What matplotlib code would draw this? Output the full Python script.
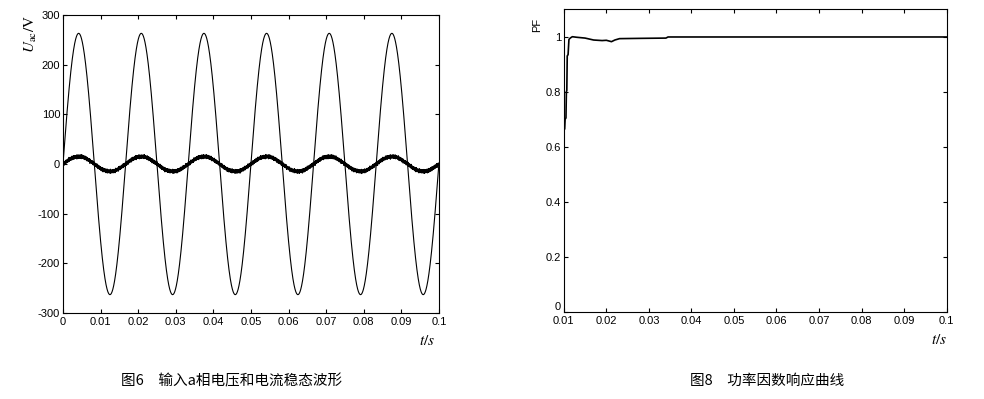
import numpy as np
import matplotlib
matplotlib.use("Agg")
from matplotlib import pyplot as plt

plt.rcParams['font.family'] = ['Liberation Sans', 'DejaVu Sans']
plt.rcParams['axes.unicode_minus'] = False
plt.rcParams['mathtext.fontset'] = 'stix'

# --- data ---
# Fig. 6: steady-state phase-a voltage / current (60 Hz)
volt_amp = 263.0      # V peak
curr_amp = 15.0       # current trace peak (plotted on same axis)
grid_freq = 60.0      # Hz
ripple_amp = 2.2      # switching ripple on the current trace
ripple_freq = 5000.0
t_end = 0.1

# Fig. 8: power factor response
pf_t = [0.0100, 0.0102, 0.0103, 0.0105, 0.0106, 0.0107, 0.0108, 0.0110, 0.0112,
        0.0115, 0.0120, 0.0130, 0.0150, 0.0170, 0.0190, 0.0200, 0.0212, 0.0220,
        0.0231, 0.0280, 0.0340, 0.0345, 0.0600, 0.1000]
pf_v = [0.660, 0.665, 0.700, 0.705, 0.800, 0.805, 0.930, 0.935, 0.990,
        0.995, 1.000, 0.998, 0.995, 0.988, 0.986, 0.987, 0.982, 0.988,
        0.993, 0.994, 0.995, 0.999, 0.999, 0.999]

x_ticks_l = [0, 0.01, 0.02, 0.03, 0.04, 0.05, 0.06, 0.07, 0.08, 0.09, 0.1]
x_labels_l = ['0', '0.01', '0.02', '0.03', '0.04', '0.05', '0.06', '0.07', '0.08', '0.09', '0.1']
y_ticks_l = [-300, -200, -100, 0, 100, 200, 300]
x_ticks_r = [0.01, 0.02, 0.03, 0.04, 0.05, 0.06, 0.07, 0.08, 0.09, 0.1]
x_labels_r = ['0.01', '0.02', '0.03', '0.04', '0.05', '0.06', '0.07', '0.08', '0.09', '0.1']
y_ticks_r = [0, 0.2, 0.4, 0.6, 0.8, 1]
y_labels_r = ['0', '0.2', '0.4', '0.6', '0.8', '1']

cap_left = '图6　输入a相电压和电流稳态波形'
cap_right = '图8　功率因数响应曲线'

# --- build waveforms ---
t = np.linspace(0, t_end, 8001)
w = 2 * np.pi * grid_freq
u = volt_amp * np.sin(w * t)
# switching ripple: sum of deterministic triangle waves
def tri(f, ph):
    return 2 * np.abs(2 * ((t * f + ph) % 1) - 1) - 1
ripple = tri(ripple_freq, 0) + 0.8 * tri(ripple_freq * 2.71, 0.3) + 0.6 * tri(ripple_freq * 0.53, 0.7)
i = curr_amp * np.sin(w * t) + ripple_amp * ripple

fig = plt.figure(figsize=(9.84, 3.99), dpi=100)

def style_axes(ax):
    ax.tick_params(direction='in', length=3, width=0.8, top=True, right=True,
                   labelsize=8, pad=2)
    ax.tick_params(axis='x', pad=3)
    for s in ax.spines.values():
        s.set_linewidth(0.8)

# left panel
ax1 = fig.add_axes([0.064, 0.2155, 0.382, 0.747])
ax1.plot(t, u, color='black', lw=0.8)
ax1.plot(t, i, color='black', lw=0.8)
ax1.set_xlim(0, t_end)
ax1.set_ylim(-300, 300)
ax1.set_xticks(x_ticks_l)
ax1.set_xticklabels(x_labels_l)
ax1.set_yticks(y_ticks_l)
style_axes(ax1)
ax1.text(-0.085, 1.0, r'$U_{\rm ac}/{\rm V}$', transform=ax1.transAxes, rotation=90,
         ha='center', va='top', fontsize=11)
ax1.text(0.99, -0.07, r'$t/s$', transform=ax1.transAxes, ha='right', va='top',
         fontsize=11)

# right panel
ax2 = fig.add_axes([0.573, 0.218, 0.389, 0.759])
ax2.plot(pf_t, pf_v, color='black', lw=1.2)
ax2.set_xlim(0.01, 0.1)
ax2.set_ylim(0, 1.1)
ax2.set_xticks(x_ticks_r)
ax2.set_xticklabels(x_labels_r)
ax2.set_yticks(y_ticks_r)
ax2.set_yticklabels(y_labels_r)
style_axes(ax2)
ax2.get_yticklabels()[0].set_va('bottom')
ax2.text(-0.07, 0.97, 'PF', transform=ax2.transAxes, rotation=90,
         ha='center', va='top', fontsize=8)
ax2.text(1.0, -0.07, r'$t/s$', transform=ax2.transAxes, ha='right', va='top',
         fontsize=11)

# captions
fig.text(0.235, 0.045, cap_left, ha='center', va='center', fontsize=10.5,
         family=['Noto Sans CJK SC', 'DejaVu Sans'])
fig.text(0.78, 0.045, cap_right, ha='center', va='center', fontsize=10.5,
         family=['Noto Sans CJK SC', 'DejaVu Sans'])

fig.savefig('out.png', dpi=100)
